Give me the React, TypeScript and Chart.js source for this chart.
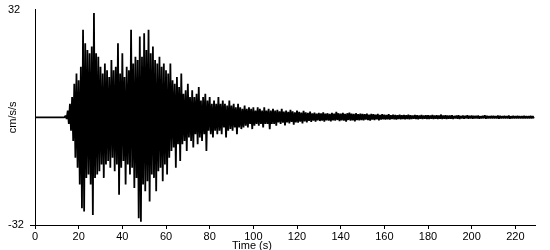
import React, { useEffect, useRef } from "react";
import { Chart, registerables } from "chart.js";

Chart.register(...registerables);

// Peak (max / min) acceleration per 1-second bin (cm/s/s), t = 0..228 s
const peakPos = [
  0, 0, 0, 0, 0, 0, 0, 0, 0, 0,
  0, 0, 0, 0, 0.5, 2, 4, 6, 10, 13,
  11, 15, 26, 22, 20, 19, 21, 31, 19, 18,
  15, 13, 16, 14, 12, 17, 14, 15, 22, 13,
  19, 12, 15, 14, 26, 16, 18, 17, 24, 18,
  25, 20, 26, 19, 21, 17, 16, 18, 15, 16,
  14, 13, 16, 11, 10, 12, 9, 13, 7, 8,
  10, 6, 8, 6, 7, 9, 5, 6, 7, 5,
  6, 4, 5, 4, 6, 4, 5, 4, 3.5, 5,
  3.5, 4, 3, 4, 3, 2.5, 3.5, 2.5, 3, 2.5,
  3, 2, 3, 2.5, 2, 3, 2, 2.5, 2, 2.5,
  2, 2.2, 1.8, 2.5, 1.7, 2, 1.6, 2.2, 1.8, 1.5,
  2, 1.6, 1.4, 1.9, 1.5, 1.3, 1.7, 1.2, 1.4, 1.1,
  1.3, 1.2, 1.5, 1.1, 1.2, 1, 1.3, 1.1, 1.6, 1.2,
  1.1, 1.3, 1, 1.2, 1.4, 1.1, 1, 1.2, 0.9, 1.1,
  1, 0.9, 1.1, 0.8, 1, 0.9, 0.8, 1, 0.7, 0.9,
  0.8, 0.7, 0.9, 0.6, 0.8, 0.7, 0.6, 0.8, 0.6, 0.7,
  0.6, 0.8, 0.6, 0.5, 0.7, 0.6, 0.5, 0.7, 0.5, 0.6,
  0.6, 0.5, 0.7, 0.5, 0.6, 0.5, 0.8, 0.5, 0.6, 0.5,
  0.5, 0.6, 0.4, 0.5, 0.6, 0.4, 0.5, 0.4, 0.6, 0.4,
  0.5, 0.4, 0.4, 0.5, 0.3, 0.4, 0.6, 0.4, 0.3, 0.4,
  0.4, 0.3, 0.5, 0.4, 0.3, 0.4, 0.3, 0.5, 0.3, 0.4,
  0.3, 0.4, 0.3, 0.3, 0.4, 0.3, 0.3, 0.4, 0.3,
];

const peakNeg = [
  0, 0, 0, 0, 0, 0, 0, 0, 0, 0,
  0, 0, 0, 0, -0.5, -2, -4, -7, -12, -15,
  -20, -27, -28, -18, -17, -20, -29, -18, -17, -16,
  -14, -18, -14, -13, -15, -12, -16, -14, -23, -15,
  -13, -20, -14, -17, -15, -21, -18, -30, -31, -20,
  -22, -19, -25, -17, -18, -22, -16, -15, -19, -14,
  -17, -12, -10, -9, -15, -8, -13, -8, -7, -10,
  -6, -7, -9, -5, -8, -6, -7, -5, -10, -4,
  -5, -6, -4, -5, -4, -5, -3, -6, -4, -3.5,
  -4, -3, -5, -3, -3.5, -3, -2.5, -3, -2, -3.5,
  -2.5, -2, -2.5, -2, -3, -2, -2, -3.5, -2, -2,
  -2.5, -1.5, -2, -1.6, -2.4, -1.5, -1.8, -1.4, -2.2, -1.5,
  -1.6, -1.3, -1.8, -1.2, -1.5, -1.1, -1.4, -1, -1.3, -0.9,
  -1.1, -1, -1.3, -0.9, -1, -1.2, -0.9, -1, -0.8, -1.1,
  -0.9, -1, -1.3, -0.8, -1, -0.9, -1.2, -0.8, -0.9, -0.8,
  -0.9, -0.7, -0.8, -1, -0.7, -0.8, -0.6, -0.9, -0.7, -0.6,
  -0.7, -0.6, -0.7, -0.5, -0.6, -0.7, -0.5, -0.6, -0.5, -0.6,
  -0.5, -0.6, -0.5, -0.4, -0.5, -0.6, -0.4, -0.5, -0.4, -0.5,
  -0.5, -0.4, -0.5, -0.4, -0.5, -0.4, -0.5, -0.4, -0.5, -0.4,
  -0.4, -0.5, -0.3, -0.4, -0.5, -0.3, -0.4, -0.3, -0.4, -0.3,
  -0.4, -0.3, -0.3, -0.4, -0.3, -0.3, -0.4, -0.3, -0.3, -0.3,
  -0.3, -0.3, -0.4, -0.3, -0.3, -0.3, -0.3, -0.4, -0.3, -0.3,
  -0.3, -0.3, -0.3, -0.3, -0.3, -0.3, -0.3, -0.3, -0.3,
];

const xTickValues = [0, 20, 40, 60, 80, 100, 120, 140, 160, 180, 200, 220];
const yTickValues = [-32, 32];
const xMin = 0;
const xMax = 229;
const yTitle = "cm/s/s";
const xTitle = "Time (s)";

const FONT = "'Liberation Sans', Arial, sans-serif";

export default function App() {
  const ref = useRef<HTMLCanvasElement | null>(null);

  useEffect(() => {
    document.body.style.margin = "0";
    const points: { x: number; y: number }[] = [];
    peakPos.forEach((p, i) => {
      points.push({ x: i, y: p });
      points.push({ x: i + 0.5, y: peakNeg[i] });
    });

    const chart = new Chart(ref.current as HTMLCanvasElement, {
      type: "line",
      data: {
        datasets: [
          {
            data: points,
            borderColor: "#000",
            borderWidth: 1.8,
            borderJoinStyle: "bevel",
            pointRadius: 0,
            tension: 0,
            fill: false,
          },
        ],
      },
      options: {
        animation: false,
        responsive: false,
        events: [],
        layout: { padding: { left: 8, top: 5, right: 15, bottom: 0 } },
        plugins: { legend: { display: false }, tooltip: { enabled: false } },
        scales: {
          x: {
            type: "linear",
            min: xMin,
            max: xMax,
            afterBuildTicks: (s: any) => {
              s.ticks = xTickValues.map((v) => ({ value: v }));
            },
            afterFit: (s: any) => {
              s.height = 25;
            },
            grid: { drawOnChartArea: false, tickLength: 4, color: "#000" },
            border: { color: "#000", width: 1 },
            ticks: {
              color: "#000",
              font: { family: FONT, size: 11 },
              padding: 1,
              maxRotation: 0,
              autoSkip: false,
            },
          },
          y: {
            type: "linear",
            min: -32,
            max: 32,
            afterBuildTicks: (s: any) => {
              s.ticks = yTickValues.map((v) => ({ value: v }));
            },
            afterFit: (s: any) => {
              s.width = 27;
            },
            grid: {
              drawOnChartArea: false,
              tickLength: 5,
              color: (ctx: any) =>
                ctx.tick && ctx.tick.value === -32 ? "#000" : "rgba(0,0,0,0)",
            },
            border: { color: "#000", width: 1 },
            ticks: {
              color: "#000",
              font: { family: FONT, size: 11 },
              crossAlign: "far",
              autoSkip: false,
            },
            title: {
              display: true,
              text: yTitle,
              color: "#000",
              font: { family: FONT, size: 11 },
              padding: { top: -2, bottom: 0 },
            },
          },
        },
      },
    });
    return () => chart.destroy();
  }, []);

  return (
    <div style={{ position: "relative", width: 550, height: 250, overflow: "hidden" }}>
      <canvas ref={ref} width={550} height={250} style={{ display: "block" }} />
      <div
        style={{
          position: "absolute",
          left: 232,
          top: 240,
          fontFamily: FONT,
          fontSize: 11,
          lineHeight: "11px",
          color: "#000",
          whiteSpace: "nowrap",
        }}
      >
        {xTitle}
      </div>
    </div>
  );
}
